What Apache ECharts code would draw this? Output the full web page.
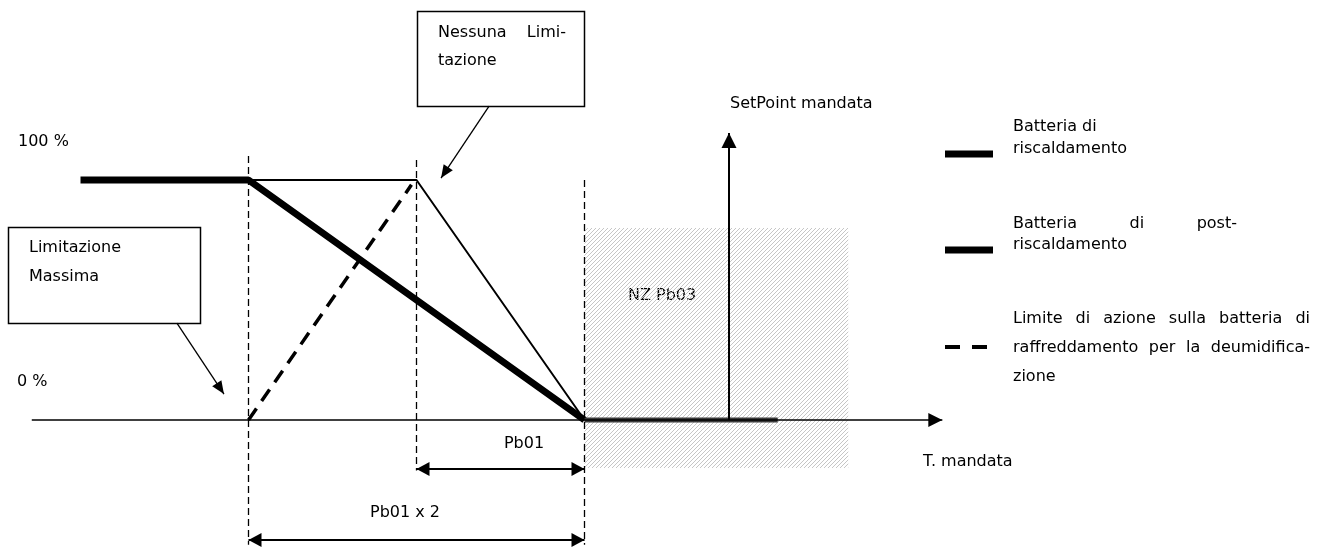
<!DOCTYPE html>
<html>
<head>
<meta charset="utf-8">
<script src="https://cdn.jsdelivr.net/npm/echarts@6/dist/echarts.min.js"></script>
<style>
  html, body { margin: 0; padding: 0; background: #fff; }
  #chart { width: 1321px; height: 548px; }
</style>
</head>
<body>
<div id="chart"></div>
<script>
// x in Pb01 units (0 = end of the band / start of NZ), y in %
const curveRiscaldamento = [[-3, 100], [-2, 100], [0, 0]];
const curveNessunaLimitazione = [[-2, 100], [-1, 100], [0, 0]];
const curveDeumidifica = [[-2, 0], [-1.03, 98]];
const curvePostRiscaldamento = [[0, 0], [1.15, 0]];
const guideLines = [[-2, 110, -52], [-1, 108.3, -21], [0, 100, -52]]; // x, top, bottom
const zonaNeutra = [[0, 80], [1.57, -20]];
const setPoint = [[0.86, 0], [0.86, 119.6]];
const axisT = [[-3.29, 0], [2.13, 0]];
const dimPb01 = [[-1, -20.4], [0, -20.4]];
const dimPb01x2 = [[-2, -50], [0, -50]];
const calloutMassima = [[-2.426, 40.4], [-2.146, 10.8]];
const calloutNessuna = [[-0.568, 130.8], [-0.854, 100.8]];

const font = '16px "DejaVu Sans"';

var chart = echarts.init(document.getElementById('chart'));

function hatch() {
  var c = document.createElement('canvas');
  c.width = 4;
  c.height = 4;
  var ctx = c.getContext('2d');
  ctx.strokeStyle = '#c6c6c6';
  ctx.lineWidth = 1;
  ctx.beginPath();
  ctx.moveTo(0, 4); ctx.lineTo(4, 0);
  ctx.moveTo(-1, 1); ctx.lineTo(1, -1);
  ctx.moveTo(3, 5); ctx.lineTo(5, 3);
  ctx.stroke();
  return c;
}

function curve(data, width, dash, color) {
  return {
    type: 'line',
    data: data,
    symbol: 'none',
    silent: true,
    z: 3,
    lineStyle: { color: color || '#000', width: width, type: dash || 'solid' }
  };
}

// markLine pair, the arrow tip sits on the end point
function arrow(pts, width, ends, size) {
  var ls = { color: '#000', width: width, type: 'solid' };
  return [
    { coord: pts[0], symbol: ends[0], symbolSize: size, symbolOffset: [0, '50%'], lineStyle: ls },
    { coord: pts[1], symbol: ends[1], symbolSize: size, symbolOffset: [0, '50%'], lineStyle: ls }
  ];
}

var measureCtx = document.createElement('canvas').getContext('2d');

function txt(s, x, y, align) {
  return {
    type: 'text',
    x: x,
    y: y,
    silent: true,
    style: {
      text: s,
      font: font,
      fill: '#000',
      align: align || 'left',
      verticalAlign: 'middle',
      textAlign: align || 'left',
      textVerticalAlign: 'middle'
    }
  };
}

// spread the words of a line between left and right (justified text)
function justify(line, left, right, y) {
  var words = line.split(' ');
  measureCtx.font = font;
  var widths = words.map(function (w) { return measureCtx.measureText(w).width; });
  var total = widths.reduce(function (a, b) { return a + b; }, 0);
  var gap = (right - left - total) / (words.length - 1);
  var x = left;
  return words.map(function (w, i) {
    var el = txt(w, x, y);
    x += widths[i] + gap;
    return el;
  });
}

function box(x, y, w, h) {
  return {
    type: 'rect',
    silent: true,
    shape: { x: x, y: y, width: w, height: h },
    style: { fill: '#fff', stroke: '#000', lineWidth: 1.5 }
  };
}

function legendLine(y, width, dash) {
  return {
    type: 'line',
    silent: true,
    shape: { x1: 945, y1: y, x2: 993, y2: y },
    style: { stroke: '#000', lineWidth: width, lineDash: dash || null }
  };
}

var graphics = [
  box(8.5, 227.5, 192, 96),
  box(417.5, 11.5, 167, 95),
  txt('100 %', 18, 142),
  txt('0 %', 17, 382),
  txt('Limitazione', 29, 248),
  txt('Massima', 29, 277),
  txt('tazione', 438, 61),
  txt('SetPoint mandata', 730, 104),
  txt('NZ Pb03', 628, 296),
  txt('T. mandata', 923, 462),
  txt('Pb01', 524, 444, 'center'),
  txt('Pb01 x 2', 405, 513, 'center'),
  legendLine(154, 7),
  legendLine(250, 7),
  legendLine(347, 4, [15, 12]),
  txt('Batteria di', 1013, 127),
  txt('riscaldamento', 1013, 149),
  txt('riscaldamento', 1013, 245),
  txt('zione', 1013, 377)
]
  .concat(justify('Nessuna Limi-', 438, 566, 33))
  .concat(justify('Batteria di post-', 1013, 1237, 224))
  .concat(justify('Limite di azione sulla batteria di', 1013, 1310, 319))
  .concat(justify('raffreddamento per la deumidifica-', 1013, 1310, 348));

chart.setOption({
  animation: false,
  backgroundColor: '#fff',
  grid: { left: 13.3, right: 14.1, top: 12, bottom: 3.2 },
  xAxis: { type: 'value', min: -3.4, max: 4.3, show: false },
  yAxis: { type: 'value', min: -52, max: 170, show: false },
  series: [
    {
      type: 'line',
      data: [],
      z: 1,
      markArea: {
        silent: true,
        itemStyle: { color: { image: hatch(), repeat: 'repeat' } },
        data: [[{ coord: zonaNeutra[0] }, { coord: zonaNeutra[1] }]]
      }
    },
    {
      type: 'line',
      data: [],
      z: 2,
      markLine: {
        silent: true,
        symbol: 'none',
        label: { show: false },
        lineStyle: { color: '#000', width: 1.3, type: [7, 4] },
        data: guideLines.map(function (g) {
          return [{ coord: [g[0], g[1]] }, { coord: [g[0], g[2]] }];
        })
      }
    },
    {
      type: 'line',
      data: [],
      z: 4,
      markLine: {
        silent: true,
        label: { show: false },
        data: [
          arrow(axisT, 1.5, ['none', 'triangle'], [14, 14]),
          arrow(setPoint, 2, ['none', 'triangle'], [15, 15]),
          arrow(dimPb01, 2, ['triangle', 'triangle'], [14, 13]),
          arrow(dimPb01x2, 2, ['triangle', 'triangle'], [14, 13]),
          arrow(calloutMassima, 1.3, ['none', 'triangle'], [11, 13]),
          arrow(calloutNessuna, 1.3, ['none', 'triangle'], [11, 13])
        ]
      }
    },
    curve(curveNessunaLimitazione, 2),
    curve(curveRiscaldamento, 7),
    curve(curveDeumidifica, 3.5, [14, 9]),
    curve(curvePostRiscaldamento, 5, 'solid', '#3a3a3a')
  ],
  graphic: graphics
});
</script>
</body>
</html>
